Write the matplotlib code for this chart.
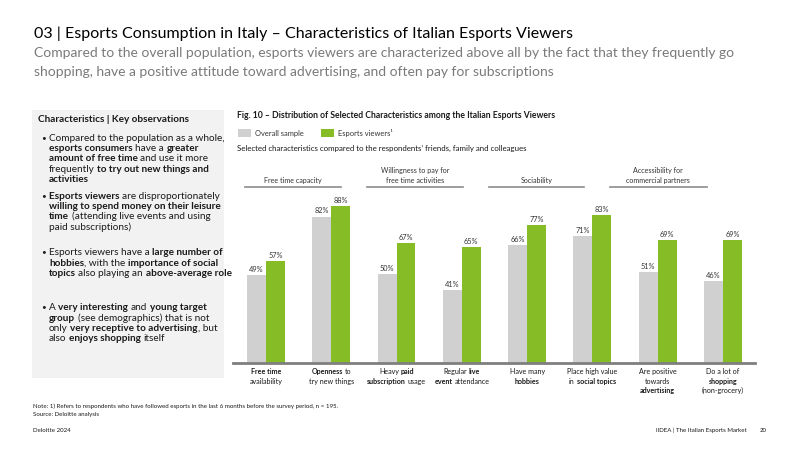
import re
import numpy as np
import matplotlib
matplotlib.use("Agg")
import matplotlib.pyplot as plt
from matplotlib.patches import Rectangle
from matplotlib.lines import Line2D

# ---------------- data ----------------
categories = [
    ["**Free time**", "availability"],
    ["**Openness** to", "try new things"],
    ["Heavy **paid**", "**subscription** usage"],
    ["Regular **live**", "**event** attendance"],
    ["Have many", "**hobbies**"],
    ["Place high value", "in **social topics**"],
    ["Are positive", "towards", "**advertising**"],
    ["Do a lot of", "**shopping**", "(non-grocery)"],
]
overall_sample = [49, 82, 50, 41, 66, 71, 51, 46]
esports_viewers = [57, 88, 67, 65, 77, 83, 69, 69]
series_names = ["Overall sample", "Esports viewers\u00b9"]
group_headers = [
    ["Free time capacity"],
    ["Willingness to pay for", "free time activities"],
    ["Sociability"],
    ["Accessibility for", "commercial partners"],
]
title = "03 | Esports Consumption in Italy \u2013 Characteristics of Italian Esports Viewers"
subtitle = [
    "Compared to the overall population, esports viewers are characterized above all by the fact that they frequently go",
    "shopping, have a positive attitude toward advertising, and often pay for subscriptions",
]
chart_title = "Fig. 10 \u2013 Distribution of Selected Characteristics among the Italian Esports Viewers"
chart_subtitle = "Selected characteristics compared to the respondents\u2019 friends, family and colleagues"
panel_header = "Characteristics | Key observations"
panel_bullets = [
    ["Compared to the population as a whole,",
     "**esports consumers** have a **greater**",
     "**amount of free time** and use it more",
     "frequently **to try out new things and**",
     "**activities**"],
    ["**Esports viewers** are disproportionately",
     "**willing to spend money on their leisure**",
     "**time** (attending live events and using",
     "paid subscriptions)"],
    ["Esports viewers have a **large number of**",
     "**hobbies**, with the **importance of social**",
     "**topics** also playing an **above-average role**"],
    ["A **very interesting** and **young target**",
     "**group** (see demographics) that is not",
     "only **very receptive to advertising**, but",
     "also **enjoys shopping** itself"],
]
note_lines = [
    "Note: 1) Refers to respondents who have followed esports in the last 6 months before the survey period, n = 195.",
    "Source: Deloitte analysis",
]
footer_left = "Deloitte 2024"
footer_right = "IIDEA | The Italian Esports Market"
page_number = "20"

# ---------------- helpers ----------------
W, H = 800, 450
fig = plt.figure(figsize=(8, 4.5), dpi=100)
fig.patch.set_facecolor("white")
renderer = fig.canvas.get_renderer()
FONT = ["Lato", "DejaVu Sans"]
GREEN = "#86bc25"
GREY_BAR = "#d0d0d0"
TXT = "#1a1a1a"


def measure(s, size, bold=False):
    t = fig.text(0, 0, s, fontsize=size, fontweight="bold" if bold else "normal", family=FONT)
    w = t.get_window_extent(renderer).width
    t.remove()
    return w


def adv(s, size, bold=False):
    # advance width of s (spaces included); leading space pins the bbox origin
    return measure(" |" + s + "|", size, bold) - measure(" ||", size, bold)


def fit(s, target, bold=False, ref=10.0):
    plain = s.replace("**", "")
    return ref * target / adv(plain, ref, bold)


def parse(line):
    segs = []
    for p in re.split(r"(\*\*.*?\*\*)", line):
        if not p:
            continue
        if p.startswith("**"):
            segs.append((p[2:-2], True))
        else:
            segs.append((p, False))
    return segs


def rich(x, y, line, size, ha="left", color=TXT, allbold=False):
    segs = parse(line)
    if allbold:
        segs = [(s, True) for s, _ in segs]
    widths = [adv(s, size, b) for s, b in segs]
    total = sum(widths)
    if ha == "left":
        cur = x
    elif ha == "center":
        cur = x - total / 2
    else:
        cur = x - total
    base = y + 0.34 * size * 100 / 72
    for (s, b), w in zip(segs, widths):
        lead = len(s) - len(s.lstrip(" "))
        off = adv(" " * lead, size, b) if lead else 0
        txt = s.strip(" ")
        if txt:
            fig.text((cur + off) / W, 1 - base / H, txt, fontsize=size,
                     fontweight="bold" if b else "normal", family=FONT,
                     color=color, ha="left", va="baseline")
        cur += w


def hline(x1, x2, y, color="#8c8c8c", lw=1.2):
    fig.add_artist(Line2D([x1 / W, x2 / W], [1 - y / H, 1 - y / H],
                          transform=fig.transFigure, color=color, lw=lw))


def rect(x1, y1, x2, y2, color):
    fig.add_artist(Rectangle((x1 / W, 1 - y2 / H), (x2 - x1) / W, (y2 - y1) / H,
                             transform=fig.transFigure, color=color, lw=0, zorder=0))


# ---------------- header ----------------
s_title = fit(title, 539)
rich(34, 33, title, s_title, color="#000000")
s_sub = fit(subtitle[1], 518)
rich(34, 52, subtitle[0], s_sub, color="#7a7a7a")
rich(34, 71, subtitle[1], s_sub, color="#7a7a7a")

# ---------------- left panel ----------------
rect(32, 110, 224, 378, "#f2f2f2")
s_panel = fit("Compared to the population as a whole,", 176)
rich(38, 119, panel_header, s_panel, allbold=True)
starts = [137.5, 195.5, 252, 307]
lh = 10.2
for st, lines in zip(starts, panel_bullets):
    rich(41.5, st - 0.3, "\u2022", s_panel * 0.8)
    for k, ln in enumerate(lines):
        rich(49, st + k * lh, ln, s_panel)

# ---------------- chart texts ----------------
s_ct = fit(chart_title, 318, bold=True)
rich(237, 115, chart_title, s_ct, allbold=True)
s_leg = fit(series_names[0], 49)
rect(238, 129, 251, 137, GREY_BAR)
rich(255, 133, series_names[0], s_leg, color="#333333")
rect(321, 129, 334, 137, GREEN)
rich(338, 133, series_names[1], s_leg, color="#333333")
s_cs = fit(chart_subtitle, 293)
rich(237, 148.5, chart_subtitle, s_cs)

s_gh = fit(group_headers[0][0], 58)
gh_centers = [293, 415, 537, 658]
gh_lines = [(245, 341), (367, 463), (489, 584), (610, 707)]
for c, (a, b), lines in zip(gh_centers, gh_lines, group_headers):
    n = len(lines)
    for k, ln in enumerate(lines):
        rich(c, 181 - (n - 1 - k) * 10, ln, s_gh, ha="center", color="#333333")
    hline(a, b, 187)

# ---------------- bars ----------------
base_y = 363
px_per_pct = 1.786
ax = fig.add_axes([233 / W, (H - base_y) / H, (755 - 233) / W, 100 * px_per_pct / H])
ax.patch.set_alpha(0)
x = np.arange(len(overall_sample))
bw = 0.29
ax.bar(x - bw / 2, overall_sample, bw, color=GREY_BAR, zorder=2)
ax.bar(x + bw / 2, esports_viewers, bw, color=GREEN, zorder=2)
ax.set_xlim(-0.505, 7.49)
ax.set_ylim(0, 100)
for sp in ["top", "left", "right"]:
    ax.spines[sp].set_visible(False)
ax.spines["bottom"].set_color("#7f7f7f")
ax.spines["bottom"].set_linewidth(2)
ax.spines["bottom"].set_zorder(3)
ax.set_xticks([])
ax.set_yticks([])
s_val = fit("88%", 14.5)
for xi, v in zip(x - bw / 2, overall_sample):
    ax.annotate(f"{v}%", (xi, v), xytext=(0, 1.5), textcoords="offset points",
                ha="center", va="bottom", fontsize=s_val, family=FONT, color="#333333")
for xi, v in zip(x + bw / 2, esports_viewers):
    ax.annotate(f"{v}%", (xi, v), xytext=(0, 1.5), textcoords="offset points",
                ha="center", va="bottom", fontsize=s_val, family=FONT, color="#333333")

# category labels
s_cat = fit("Place high value", 50)
fig.canvas.draw()
for i, lines in enumerate(categories):
    cx_disp = ax.transData.transform((i, 0))[0]
    for k, ln in enumerate(lines):
        rich(cx_disp, 372 + k * 9.2, ln, s_cat, ha="center")

# ---------------- footer ----------------
s_note = fit(note_lines[0], 305)
rich(33, 405.5, note_lines[0], s_note)
rich(33, 414, note_lines[1], s_note)
rich(33, 430, footer_left, s_note)
s_foot = fit(footer_right, 92)
rich(747, 430, footer_right, s_foot, ha="right")
rich(760, 430, page_number, s_foot)

fig.savefig("out.png", dpi=100, facecolor="white")
